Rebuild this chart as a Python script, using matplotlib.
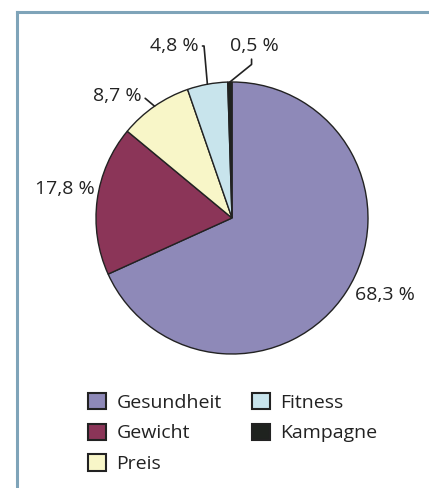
import numpy as np
import matplotlib
matplotlib.use("Agg")
import matplotlib.pyplot as plt
from matplotlib.lines import Line2D
from matplotlib.patches import Patch

""" DATA """

categories = ["Gesundheit", "Gewicht", "Preis", "Fitness", "Kampagne"]
shares = [68.3, 17.8, 8.7, 4.8, 0.5]
share_labels = ["68,3 %", "17,8 %", "8,7 %", "4,8 %", "0,5 %"]
colors = ["#8e89b8", "#8b3558", "#f8f6c8", "#c8e4ec", "#1f231f"]

plt.rcParams["font.family"] = ["Open Sans", "DejaVu Sans"]

W, H = 429, 488
fig = plt.figure(figsize=(W / 100, H / 100), dpi=100)
fig.patch.set_facecolor("white")

# pie placed in pixel coords: centre (232, 218), radius 136
cx, cy, r = 232, 218, 136
ax = fig.add_axes([(cx - r) / W, (H - cy - r) / H, 2 * r / W, 2 * r / H])
ax.axis("off")

wedges, _ = ax.pie(shares, colors=colors, startangle=90, counterclock=False,
                   radius=1, wedgeprops=dict(edgecolor="#222222", linewidth=1.0))
# pie() resets the limits, so set them afterwards
ax.set_xlim(-1, 1)
ax.set_ylim(-1, 1)
ax.set_aspect("equal")

# mid angle of each wedge
mids = []
for w in wedges:
    mids.append(np.deg2rad((w.theta1 + w.theta2) / 2))

def px(x, y):
    # pixel position -> data coords of pie axes
    return ((x - cx) / r, (cy - y) / r)

fs = 14
# plain labels
ax.text(*px(385, 295), share_labels[0], fontsize=fs, ha="center", va="center",
        color="#222222")
ax.text(*px(65, 189), share_labels[1], fontsize=fs, ha="center", va="center",
        color="#222222")

# labels with leader lines
leaders = [
    (2, px(117, 96), (1, 0.5), "angle,angleA=0,angleB=-40,rad=0"),
    (3, px(174, 46), (1, 0.5), "angle,angleA=0,angleB=95,rad=0"),
    (4, px(254, 46), (0.45, 0), "angle,angleA=-90,angleB=39,rad=0"),
]
for i, txt_xy, rel, cstyle in leaders:
    edge = (np.cos(mids[i]), np.sin(mids[i]))
    ax.annotate(share_labels[i], xy=edge, xytext=txt_xy, fontsize=fs,
                ha="center", va="center", color="#222222",
                annotation_clip=False,
                arrowprops=dict(arrowstyle="-", color="#222222", lw=1.2,
                                connectionstyle=cstyle, relpos=rel,
                                shrinkA=1, shrinkB=0))

# legend
handles = [Patch(facecolor=c, edgecolor="#222222", linewidth=1.5) for c in colors]
fig.legend(handles, categories, ncol=2, loc="upper left",
           bbox_to_anchor=(88 / W, 1 - 393 / H), frameon=False, fontsize=fs,
           handlelength=0.92, handleheight=0.92, handletextpad=0.55,
           labelspacing=0.6, columnspacing=1.55, borderpad=0, borderaxespad=0,
           labelcolor="#222222")

# frame lines top and left
fig.add_artist(Line2D([17 / W, 1], [1 - 11.5 / H, 1 - 11.5 / H],
                      color="#7fa4b9", lw=2.2, transform=fig.transFigure))
fig.add_artist(Line2D([17 / W, 17 / W], [0, 1 - 11.5 / H],
                      color="#7fa4b9", lw=2.2, transform=fig.transFigure))

fig.savefig("out.png", dpi=100)
